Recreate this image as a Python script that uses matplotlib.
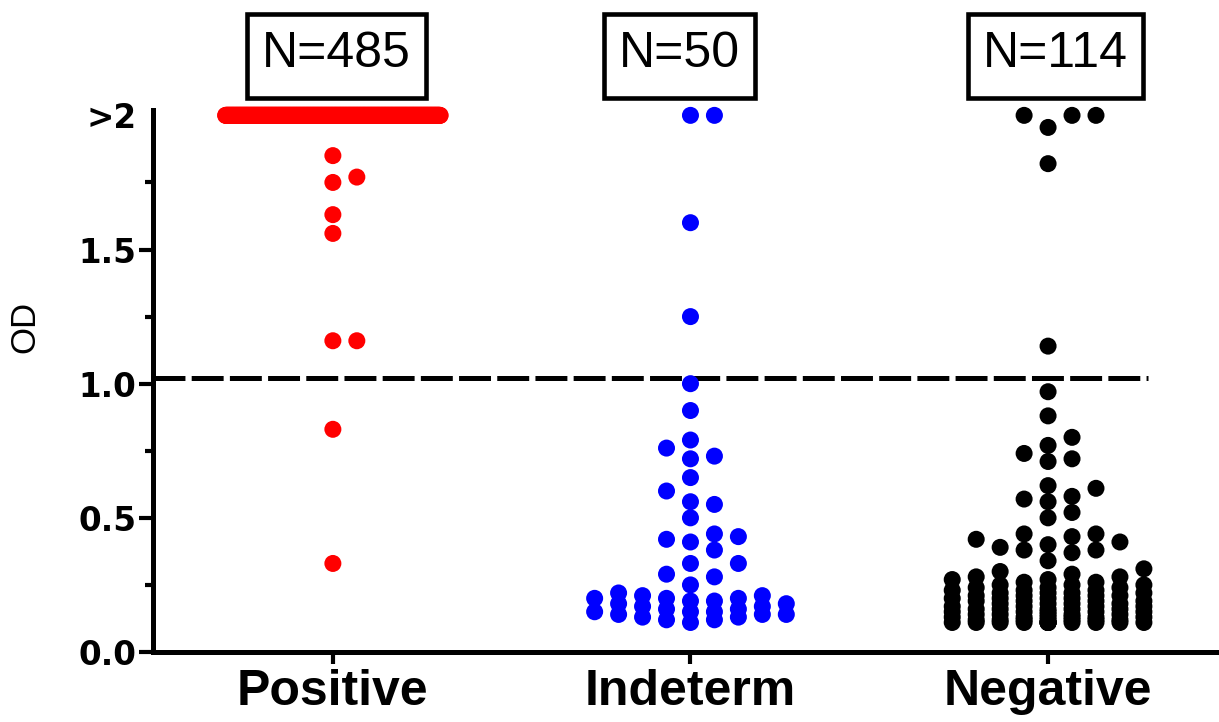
import numpy as np
import matplotlib
matplotlib.use('Agg')
import matplotlib.pyplot as plt
import matplotlib.transforms as mtransforms
from matplotlib.patches import Rectangle

# data
groups = ['Positive', 'Indeterm', 'Negative']
colors = ['#ff0000', '#0000ff', '#000000']
over_counts = [476, 2, 3]          # points shown at the ">2" row
positive_od = [1.85, 1.77, 1.75, 1.63, 1.56, 1.16, 1.16, 0.83, 0.33]
indeterm_od = [1.60, 1.25, 1.00, 0.90, 0.79, 0.76, 0.73, 0.72, 0.65, 0.60,
               0.56, 0.55, 0.50, 0.44, 0.43, 0.42, 0.41, 0.38, 0.33, 0.33,
               0.29, 0.28, 0.25,
               0.22, 0.21, 0.21, 0.20, 0.20, 0.20, 0.19, 0.19, 0.18, 0.18,
               0.17, 0.17, 0.16, 0.16, 0.15, 0.15, 0.15, 0.14, 0.14, 0.14,
               0.13, 0.13, 0.12, 0.12, 0.11]
negative_od = [1.955, 1.82, 1.14, 0.97, 0.88, 0.80, 0.77, 0.74, 0.72, 0.71,
               0.62, 0.61, 0.58, 0.57, 0.56, 0.52, 0.50, 0.44, 0.44, 0.43,
               0.42, 0.41, 0.40, 0.39, 0.38, 0.38, 0.37, 0.34,
               0.31, 0.30, 0.29, 0.28, 0.28, 0.27, 0.27, 0.26, 0.26, 0.25,
               0.25, 0.25, 0.24, 0.24, 0.24, 0.23, 0.23, 0.23, 0.22, 0.22,
               0.22, 0.22, 0.21, 0.21, 0.21, 0.21, 0.20, 0.20, 0.20, 0.20,
               0.19, 0.19, 0.19, 0.19, 0.18, 0.18, 0.18, 0.18, 0.17, 0.17,
               0.17, 0.17, 0.16, 0.16, 0.16, 0.16, 0.16, 0.15, 0.15, 0.15,
               0.15, 0.15, 0.14, 0.14, 0.14, 0.14, 0.14, 0.13, 0.13, 0.13,
               0.13, 0.13, 0.13, 0.12, 0.12, 0.12, 0.12, 0.12, 0.12, 0.12,
               0.11, 0.11, 0.11, 0.11, 0.11, 0.11, 0.11, 0.11, 0.11, 0.11,
               0.11, 0.11, 0.11]
values = [positive_od, indeterm_od, negative_od]
cap_value = 2.0
cutoff = 1.02
ytick_vals = [0.0, 0.5, 1.0, 1.5, 2.0]
ytick_labels = ['0.0', '0.5', '1.0', '1.5', '>2']

col_w = 0.067      # column spacing of the swarm (data units)
min_dy = 0.058     # vertical gap needed to share a column
max_col = 4


def swarm(vals, center):
    vals = np.asarray(vals, dtype=float)
    cols = [0]
    for k in range(1, max_col + 1):
        cols += [k, -k]
    placed = {c: [] for c in cols}
    xs = np.empty(len(vals))
    for i in np.argsort(vals, kind='stable'):
        v = vals[i]
        best, best_d = cols[0], -1.0
        for c in cols:
            d = min([abs(v - u) for u in placed[c]], default=np.inf)
            if d >= min_dy:
                best = c
                break
            if d > best_d:
                best, best_d = c, d
        placed[best].append(v)
        xs[i] = center + best * col_w
    return xs


plt.rcParams['font.family'] = ['Liberation Sans', 'DejaVu Sans']
plt.rcParams['lines.scale_dashes'] = False

fig = plt.figure(figsize=(12.19, 7.22), dpi=100)
ax = fig.add_axes([153/1219, 1 - 652/722, 1 - 153/1219, (652 - 110)/722])

for i, (vals, n_over, col) in enumerate(zip(values, over_counts, colors)):
    if n_over <= 2*max_col + 1:
        allv = list(vals) + [cap_value]*n_over
        ys = np.array(allv)
        xs = swarm(allv, i)
    else:
        # too many to swarm: spread them across the band
        xs_over = i + np.linspace(-0.30, 0.30, n_over)
        ys = np.concatenate([np.full(n_over, cap_value), vals])
        xs = np.concatenate([xs_over, swarm(vals, i)])
    ax.scatter(xs, ys, s=150, color=col, edgecolors='none', clip_on=False, zorder=3)

ax.hlines(cutoff, -0.503, 2.28, colors='black', linewidth=3.6,
          linestyles=(0, (23, 4.5)), zorder=2)

ax.set_xlim(-0.503, 2.478)
ax.set_ylim(0, 2.02)

for side in ['top', 'right']:
    ax.spines[side].set_visible(False)
for side in ['left', 'bottom']:
    ax.spines[side].set_linewidth(3.6)

ax.set_xticks(range(len(groups)))
ax.set_xticklabels(groups, fontsize=36, fontweight='bold')
ax.tick_params(axis='x', length=8.5, width=3, pad=4)

ax.set_yticks(ytick_vals)
ax.set_yticklabels(ytick_labels, fontsize=23.5, fontweight='bold', family='DejaVu Sans')
ax.set_yticks([0.25, 0.75, 1.25, 1.75], minor=True)
ax.tick_params(axis='y', which='major', length=10, width=3, pad=2)
ax.tick_params(axis='y', which='minor', length=5.5, width=3)
ax.yaxis.get_major_ticks()[-1].tick1line.set_visible(False)

fig.text(25/1219, 1 - 327/722, 'OD', rotation=90, fontsize=25,
         ha='center', va='center')

# N boxes above each group
trans = mtransforms.blended_transform_factory(ax.transData, fig.transFigure)
box_dx = [0.01, -0.03, 0.02]
labels = []
for i, (vals, n_over) in enumerate(zip(values, over_counts)):
    n = n_over + len(vals)
    t = ax.text(i + box_dx[i], 1 - 54/722, f'N={n}', transform=trans, fontsize=36,
                ha='center', va='center')
    labels.append(t)

fig.canvas.draw()
renderer = fig.canvas.get_renderer()
box_h = 84
box_yc = 722 - 56
for t in labels:
    bb = t.get_window_extent(renderer)
    w = bb.width + 30
    fig.patches.append(Rectangle((bb.x0 - 15, box_yc - box_h/2), w, box_h,
                                 transform=mtransforms.IdentityTransform(),
                                 fill=False, edgecolor='black', linewidth=3.3,
                                 joinstyle='miter', figure=fig))

fig.savefig('out.png', dpi=100)
